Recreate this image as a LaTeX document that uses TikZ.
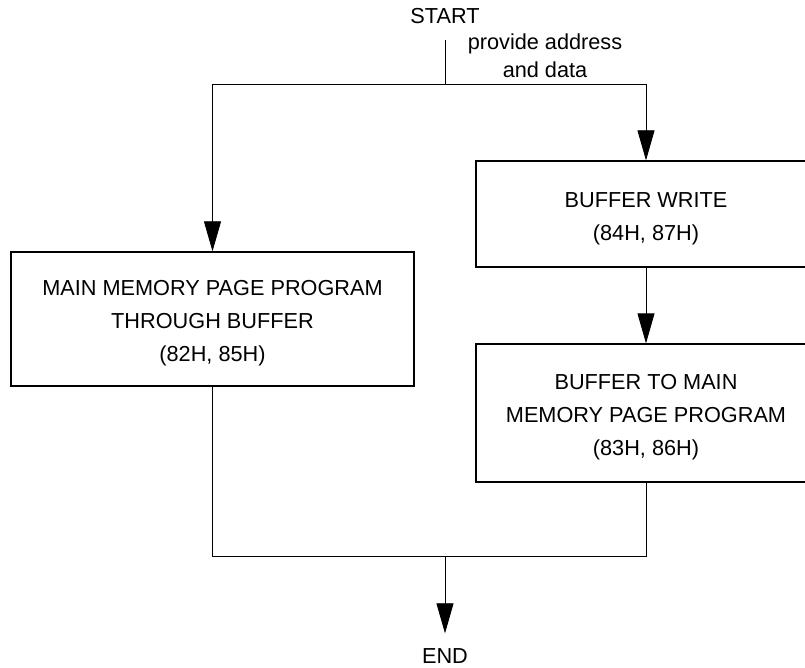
\documentclass[tikz,border=0pt]{standalone}
\usepackage{fontspec}
\setmainfont{Liberation Sans}
\usetikzlibrary{arrows.meta}

\newcommand{\boxstrut}{\rule{0pt}{24pt}}

\begin{document}
\begin{tikzpicture}[x=1pt, y=-1pt,
  box/.style={draw, line width=1.3pt, align=center, minimum width=340, font=\fontsize{21.7}{33}\selectfont},
  txt/.style={inner sep=2pt, font=\fontsize{21.7}{28}\selectfont, align=center},
  flow/.style={line width=0.8pt, -{Triangle[length=30pt, width=17pt]}},
  line/.style={line width=0.8pt}]
  \useasboundingbox (0,0) rectangle (805,668);
  \clip (0,0) rectangle (805,668);

  \node[txt] (start) at (445,16.5) {START};
  \node[txt] (addr) at (545,56) {provide address\\and data};
  \coordinate (split) at (445,84);

  \node[box, minimum width=403, minimum height=134] (main) at (212.5,319)
    {\boxstrut MAIN MEMORY PAGE PROGRAM\\THROUGH BUFFER\\(82H, 85H)};
  \node[box, minimum height=106] (write) at (646,214)
    {\boxstrut BUFFER WRITE\\(84H, 87H)};
  \node[box, minimum height=138] (tomain) at (646,413)
    {\boxstrut BUFFER TO MAIN\\MEMORY PAGE PROGRAM\\(83H, 86H)};

  \coordinate (join) at (445,556);
  \node[txt] (end) at (445,656) {END};

  % split to both branches
	\draw[line] ([yshift=-14pt]start.south) -- (split);
	\draw[flow] (split) -| (main);
	\draw[flow] (split) -| (write);
	\draw[flow] (write) -- (tomain);

  % merge at the bottom
	\draw[line] (main) |- (join);
	\draw[line] (tomain) |- (join);
	\draw[flow, shorten >=13pt] (join) -- (end);
\end{tikzpicture}
\end{document}
